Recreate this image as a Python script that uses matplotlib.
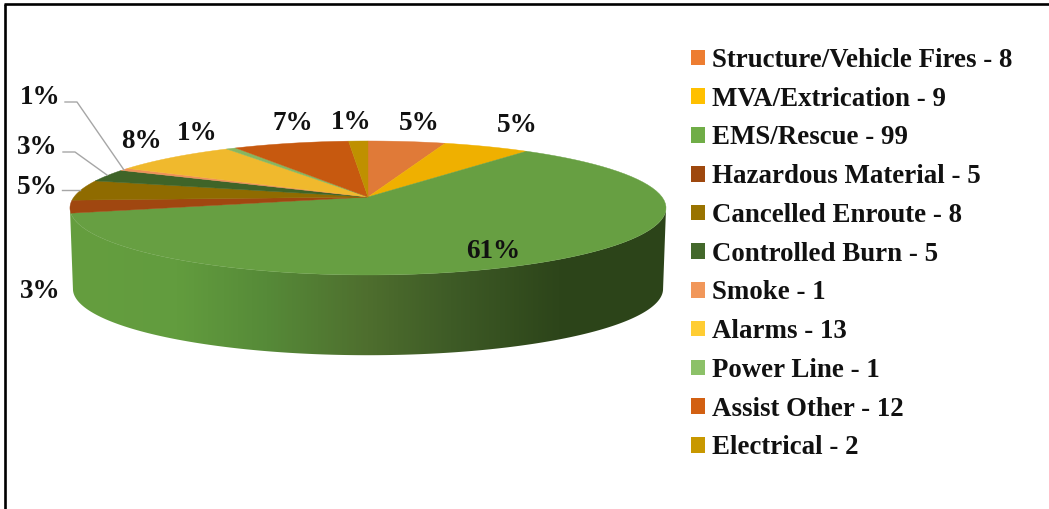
import numpy as np
import matplotlib.pyplot as plt
from matplotlib.patches import Polygon, Patch
from matplotlib.colors import LinearSegmentedColormap

# Chart data
categories = ['Structure/Vehicle Fires', 'MVA/Extrication', 'EMS/Rescue', 'Hazardous Material',
              'Cancelled Enroute', 'Controlled Burn', 'Smoke', 'Alarms', 'Power Line',
              'Assist Other', 'Electrical']
counts = [8, 9, 99, 5, 8, 5, 1, 13, 1, 12, 2]
pct_labels = ['5%', '5%', '61%', '3%', '5%', '3%', '1%', '8%', '1%', '7%', '1%']

# Colours
top_colors = ['#E07A38', '#EFB000', '#679F42', '#A04710', '#8F6B00', '#3F6428',
              '#EE9158', '#F0B92D', '#87B660', '#C7590F', '#BF9000']
legend_colors = ['#ED7D31', '#FFC000', '#70AD47', '#9E480E', '#997300', '#43682B',
                 '#F1975A', '#FFCD33', '#8CC168', '#D26012', '#C89800']
wall_colors = ['#659E3F', '#629C3E', '#568A38', '#4E6E2E', '#3E5B26', '#2D451A', '#2C4419']
wall_stops = [0.0, 0.18, 0.33, 0.50, 0.64, 0.82, 1.0]

# Label centres and leader lines, in pixels
label_pos = [(419, 123), (517, 125), (493, 251), (40, 291), (37, 187), (37, 148),
             (40, 97), (141, 141), (197, 134), (293, 123), (351, 122)]
leaders = [[(62, 190), (80, 190)],
           [(63, 152), (75, 152), (107, 175)],
           [(65, 102), (77, 102), (124, 170)]]

plt.rcParams['font.family'] = ['Liberation Serif', 'DejaVu Serif']
text_color = '#111111'

# Perspective of the pie: far side is flatter than the near side
cx = 368
top_y = 197
low_y = 278
a = 294
b = 65.2
k = 0.164
low_scale = 0.99


def project(theta, y0, scale=1.0):
    # theta in radians, clockwise from 12 o'clock
    u = np.sin(theta)
    v = np.cos(theta)
    w = 1 + k * v
    return cx + scale * a * u / w, y0 - scale * b * v / w


fig = plt.figure(figsize=(10.49, 5.09), dpi=100)
ax = fig.add_axes([0, 0, 1, 1])
ax.axis('off')

# Side wall, a horizontal gradient clipped to the outline of the rim
wall_cmap = LinearSegmentedColormap.from_list('wall', list(zip(wall_stops, wall_colors)))
tangent = np.arccos(-k)
wall_theta = np.linspace(tangent, 2 * np.pi - tangent, 400)
x_up, y_up = project(wall_theta, top_y)
x_low, y_low = project(wall_theta[::-1], low_y, low_scale)
wall_shape = Polygon(np.column_stack([np.r_[x_up, x_low], np.r_[y_up, y_low]]), fc='none', ec='none',
                     transform=ax.transData)
ax.add_patch(wall_shape)
gradient = np.linspace(0, 1, 600).reshape(1, -1)
im = ax.imshow(gradient, cmap=wall_cmap, extent=[70, 666, 360, 190], aspect='auto', zorder=1)
im.set_clip_path(wall_shape)

ax.set_xlim(0, 1049)
ax.set_ylim(509, 0)

# Frame only shows on the top and left
ax.plot([5.2, 5.2], [509, 4], color='black', lw=1.9, solid_capstyle='butt')
ax.plot([4.3, 1049], [4, 4], color='black', lw=1.9, solid_capstyle='butt')

angles = np.cumsum([0] + counts) / sum(counts) * 2 * np.pi

# Top face
for i in range(len(counts)):
    theta = np.linspace(angles[i], angles[i + 1], 80)
    x, y = project(theta, top_y)
    pts = np.column_stack([np.r_[cx, x], np.r_[top_y, y]])
    ax.add_patch(Polygon(pts, closed=True, fc=top_colors[i], ec=top_colors[i], lw=0.3, zorder=2))

# Percent labels
for label, (x, y) in zip(pct_labels, label_pos):
    ax.text(x, y, label, ha='center', va='center', fontsize=19.5, fontweight='bold', color=text_color, zorder=3)

for line in leaders:
    xs, ys = zip(*line)
    ax.plot(xs, ys, color='#A6A6A6', lw=1.0, zorder=3)

# Legend
handles = [Patch(fc=c, ec='none') for c in legend_colors]
legend_labels = ['%s - %d' % (n, c) for n, c in zip(categories, counts)]
leg = ax.legend(handles, legend_labels, loc='upper left', bbox_to_anchor=(690.5 / 1049, 1 - 48 / 509),
                frameon=False, fontsize=19.4, labelspacing=0.51, handlelength=0.52, handleheight=0.52,
                handletextpad=0.26, borderpad=0, borderaxespad=0)
for t in leg.get_texts():
    t.set_fontweight('bold')
    t.set_color(text_color)

plt.savefig('out.png', dpi=100)
